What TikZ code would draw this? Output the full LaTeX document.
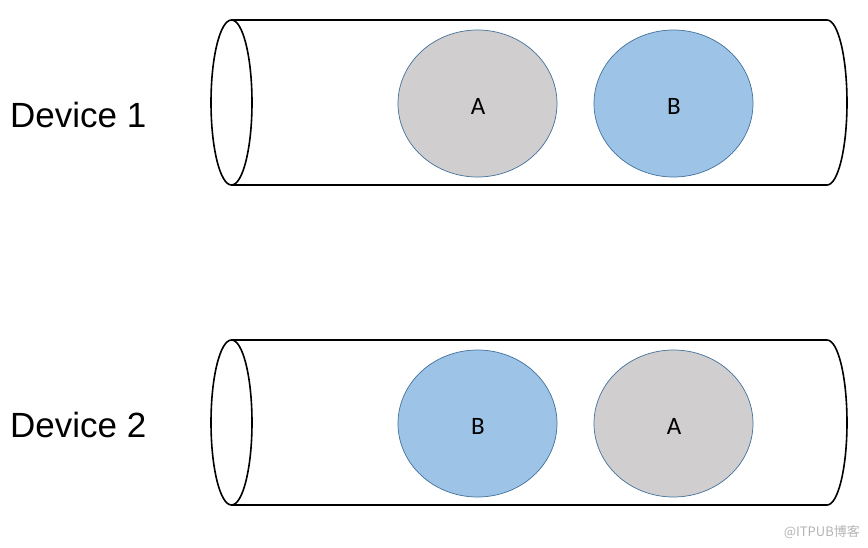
\documentclass[tikz,border=0pt]{standalone}
\usepackage{fontspec}
\setmainfont{Liberation Sans}
\newfontfamily\calfont{Carlito}
\newfontfamily\cjkfont{Noto Sans CJK SC}
\definecolor{grayfill}{HTML}{D0CECE}
\definecolor{bluefill}{HTML}{9DC3E6}
\definecolor{edgeblue}{HTML}{41719C}
\definecolor{wmgray}{HTML}{B4B4B4}
\tikzset{
  tube/.style={draw=black, line width=1.6pt},
  ball/.style={ellipse, draw=edgeblue, line width=0.7pt, minimum width=159pt, minimum height=147pt, inner sep=0pt},
  ballA/.style={ball, fill=grayfill},
  ballB/.style={ball, fill=bluefill},
  ltr/.style={font=\calfont\fontsize{25}{25}\selectfont, inner sep=0pt, anchor=base},
  devlabel/.style={font=\fontsize{35}{35}\selectfont, inner sep=0pt, anchor=base west},
}
\usetikzlibrary{shapes.geometric}
\begin{document}
\begin{tikzpicture}[x=1pt,y=-1pt]
\useasboundingbox (0,0) rectangle (868,547);
% cylinders
\foreach \dy/\nm in {0/one,320/two}{
  \begin{scope}[yshift=-\dy pt]
    \draw[tube] (231.5,102.5) ellipse [x radius=20.5, y radius=82.5];
    \draw[tube] (231.5,20) -- (827,20) arc[start angle=90, end angle=-90, x radius=20, y radius=-82.5] -- (231.5,185);
  \end{scope}
}
% device 1
\node[ballA] (a1) at (477.5,103.5) {};
\node[ballB] (b1) at (673.5,103.5) {};
\node[ltr] (ta1) at (478,114) {A};
\node[ltr] (tb1) at (674,114) {B};
\node[devlabel] (d1) at (10,127) {Device 1};
% device 2
\node[ballB] (b2) at (477.5,423.5) {};
\node[ballA] (a2) at (673.5,423.5) {};
\node[ltr] (tb2) at (478,434) {B};
\node[ltr] (ta2) at (674,434) {A};
\node[devlabel] (d2) at (10,437) {Device 2};
% watermark
\node[font=\cjkfont\fontsize{13}{13}\selectfont, text=wmgray, inner sep=0pt, anchor=base east] (wm) at (860,536) {@ITPUB博客};
\end{tikzpicture}
\end{document}
